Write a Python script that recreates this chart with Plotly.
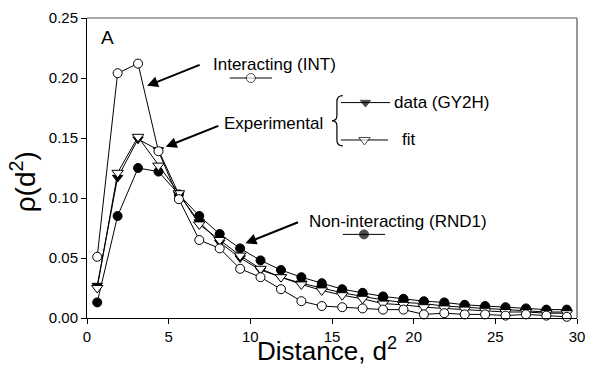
import plotly.graph_objects as go

# ---------------- data ----------------
distance = [0.625, 1.875, 3.125, 4.375, 5.625, 6.875, 8.125, 9.375, 10.625, 11.875,
            13.125, 14.375, 15.625, 16.875, 18.125, 19.375, 20.625, 21.875, 23.125,
            24.375, 25.625, 26.875, 28.125, 29.375]
int_vals = [0.051, 0.204, 0.212, 0.139, 0.099, 0.065, 0.058, 0.041, 0.034, 0.024,
            0.014, 0.010, 0.009, 0.008, 0.007, 0.007, 0.003, 0.004, 0.003,
            0.003, 0.002, 0.003, 0.002, 0.001]
rnd1_vals = [0.013, 0.085, 0.125, 0.122, 0.103, 0.085, 0.070, 0.058, 0.048, 0.040,
             0.034, 0.029, 0.024, 0.021, 0.018, 0.016, 0.014, 0.013, 0.011,
             0.010, 0.009, 0.008, 0.007, 0.007]
gy2h_vals = [0.027, 0.117, 0.149, 0.140, 0.103, 0.080, 0.063, 0.050, 0.040, 0.034,
             0.029, 0.025, 0.021, 0.018, 0.015, 0.013, 0.012, 0.010, 0.009,
             0.008, 0.007, 0.006, 0.005, 0.005]
fit_vals = [0.025, 0.121, 0.151, 0.127, 0.104, 0.078, 0.065, 0.052, 0.041, 0.034,
            0.028, 0.023, 0.019, 0.016, 0.012, 0.011, 0.009, 0.008, 0.007,
            0.006, 0.005, 0.005, 0.004, 0.004]
x_ticks = [0, 5, 10, 15, 20, 25, 30]
y_ticks = [0.00, 0.05, 0.10, 0.15, 0.20, 0.25]

# ---------------- layout geometry ----------------
W, H = 594, 366
L, R, T, B = 87, 9, 13, 48
PW, PH = W - L - R, H - T - B
XMAX, YMAX = 30, 0.25
FONT = "Liberation Sans, Arial, sans-serif"


def X(px):
    return (px - L) / PW * XMAX


def Y(py):
    return (H - B - py) / PH * YMAX


def PX(px):
    return (px - L) / PW


def PY(py):
    return (H - B - py) / PH


fig = go.Figure()

styles = {
    "rnd1": dict(symbol="circle", color="black", line=dict(color="black", width=1), size=9),
    "gy2h": dict(symbol="triangle-down", color="black", line=dict(color="black", width=1), size=9),
    "fit": dict(symbol="triangle-down", color="white", line=dict(color="black", width=1), size=10),
    "int": dict(symbol="circle", color="white", line=dict(color="black", width=1), size=9),
}

series = [("Non-interacting (RND1)", rnd1_vals, "rnd1"),
          ("data (GY2H)", gy2h_vals, "gy2h"),
          ("fit", fit_vals, "fit"),
          ("Interacting (INT)", int_vals, "int")]
for name, vals, key in series:
    fig.add_trace(go.Scatter(x=distance, y=vals, mode="lines+markers", name=name,
                             line=dict(color="black", width=1), marker=styles[key],
                             showlegend=False, cliponaxis=False))

# legend samples (line with a marker in the middle)
samples = [("int", 232, 275, 74), ("gy2h", 345, 395, 99), ("fit", 345, 393, 137),
           ("rnd1", 347, 390, 233)]
for key, x0, x1, yy in samples:
    st = dict(styles[key])
    sz = st.pop("size")
    fig.add_trace(go.Scatter(x=[X(x0), X((x0 + x1) / 2), X(x1)], y=[Y(yy)] * 3,
                             mode="lines+markers", line=dict(color="black", width=1),
                             marker=dict(**st, size=[0, sz, 0]), showlegend=False,
                             hoverinfo="skip", cliponaxis=False))

annotations = []


def text(t, px, py, size=17, xanchor="center"):
    annotations.append(dict(x=X(px), y=Y(py), xref="x", yref="y", text=t, showarrow=False,
                            xanchor=xanchor, yanchor="middle",
                            font=dict(family=FONT, size=size, color="black")))


text("A", 108, 33, size=19)
text("Interacting (INT)", 278, 60)
text("Experimental", 277, 120)
text("data (GY2H)", 397, 99, xanchor="left")
text("fit", 405, 137, xanchor="left")
text("Non-interacting (RND1)", 403, 220)

arrows = [((148, 82), (203, 60)), ((167, 144), (222, 122)), ((248, 242), (303, 220))]
for (hx, hy), (tx, ty) in arrows:
    annotations.append(dict(x=X(hx), y=Y(hy), ax=X(tx), ay=Y(ty), xref="x", yref="y",
                            axref="x", ayref="y", text="", showarrow=True, arrowhead=2,
                            arrowsize=1.1, arrowwidth=2, arrowcolor="black", standoff=0))

# axis titles (paper coordinates so they may sit outside the plot area)
annotations.append(dict(x=PX(331), y=PY(350), xref="paper", yref="paper",
                        text="Distance, d<sup>2</sup>", showarrow=False,
                        xanchor="center", yanchor="middle",
                        font=dict(family=FONT, size=26, color="black")))
annotations.append(dict(x=PX(22), y=PY(180), xref="paper", yref="paper",
                        text="ρ(d<sup>2</sup>)", showarrow=False, textangle=-90,
                        xanchor="center", yanchor="middle",
                        font=dict(family=FONT, size=28, color="black")))

# brace path
bx, btop, bbot, bmid = 341, 92, 143, 117.5
pts = [
    ("M", [(347, btop)]),
    ("Q", [(bx, btop), (bx, btop + 6)]),
    ("L", [(bx, bmid - 5)]),
    ("Q", [(bx, bmid), (336, bmid)]),
    ("Q", [(bx, bmid), (bx, bmid + 5)]),
    ("L", [(bx, bbot - 6)]),
    ("Q", [(bx, bbot), (347, bbot)]),
]
path = " ".join(cmd + " " + " ".join(f"{X(a):.4f},{Y(b):.5f}" for a, b in p) for cmd, p in pts)

shapes = [
    dict(type="path", path=path, xref="x", yref="y", line=dict(color="black", width=1.2)),
    dict(type="line", xref="paper", yref="paper", x0=0, x1=1, y0=1, y1=1,
         line=dict(color="#555555", width=1.2)),
    dict(type="line", xref="paper", yref="paper", x0=1, x1=1, y0=0, y1=1,
         line=dict(color="#777777", width=1.5)),
]

axis_common = dict(showline=True, linecolor="black", linewidth=1, ticks="outside",
                   ticklen=5, tickcolor="black", showgrid=False, zeroline=False,
                   tickfont=dict(family=FONT, size=15, color="black"))

fig.update_layout(
    width=W, height=H, margin=dict(l=L, r=R, t=T, b=B),
    paper_bgcolor="white", plot_bgcolor="white",
    xaxis=dict(range=[0, XMAX], tickvals=x_ticks, **axis_common),
    yaxis=dict(range=[0, YMAX], tickvals=y_ticks, tickformat=".2f", **axis_common),
    annotations=annotations, shapes=shapes,
)

fig.write_html("out.html", config={"displayModeBar": False},
               post_script="document.body.style.margin='0px';"
                           "document.body.style.overflow='hidden';")
